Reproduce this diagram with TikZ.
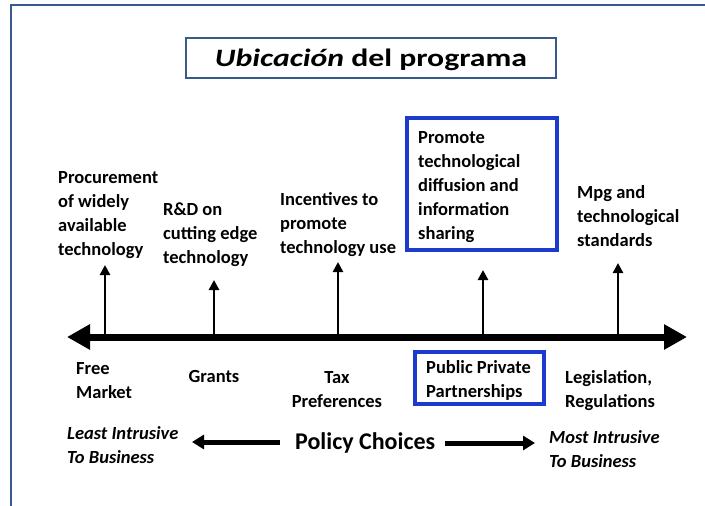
\documentclass[tikz,border=0pt]{standalone}
\usepackage{fontspec}
\setmainfont{Carlito}
\usetikzlibrary{arrows.meta}
\definecolor{frameblue}{RGB}{56,89,137}
\definecolor{boxblue}{RGB}{28,58,205}
\tikzset{
  lbl/.style={font=\bfseries\fontsize{18.5}{24}\selectfont, align=left, anchor=base west, inner sep=0pt},
  lblc/.style={lbl, align=center, anchor=base},
  ilbl/.style={lbl, font=\bfseries\itshape\fontsize{18.5}{24}\selectfont},
  tickarrow/.style={line width=2.8pt, -{Triangle[length=10pt,width=10pt]}},
  bigarrow/.style={line width=5pt, -{Triangle[length=12pt,width=14pt]}},
  axisline/.style={line width=7pt, {Triangle[length=23pt,width=24pt]}-{Triangle[length=23pt,width=24pt]}},
  hilite/.style={draw=boxblue, line width=4pt, inner sep=0pt},
  frameline/.style={draw=frameblue, line width=2.5pt},
}
\begin{document}
\begin{tikzpicture}[x=1pt,y=-1pt]
\useasboundingbox (0,0) rectangle (705,506);
% frame
\draw[frameline] (706,5) -- (11,5) -- (11,507);
% title
\node[draw=frameblue, line width=2pt, minimum width=370pt, minimum height=40pt, inner sep=0pt] (titlebox) at (371,58) {};
\node[font=\bfseries\fontsize{25}{30}\selectfont, anchor=base, inner sep=0pt] (title) at (371,66) {\scalebox{1.27}[1]{\textit{Ubicación} del programa}};
% axis
\coordinate (axL) at (67,337);
\coordinate (axR) at (687,337);
\draw[axisline] (axL) -- (axR);
% upper labels (anchor = baseline of last line)
\node[lbl] (proc) at (58,255) {Procurement\\of widely\\available\\technology};
\node[lbl] (rd) at (163,263) {R\&D on\\cutting edge\\technology};
\node[lbl] (inc) at (280,253) {Incentives to\\promote\\technology use};
\node[hilite, minimum width=150pt, minimum height=132pt] (promBox) at (482,184) {};
\node[lbl] (prom) at (418,239) {Promote\\technological\\diffusion and\\information\\sharing};
\node[lbl] (mpg) at (577,246) {Mpg and\\technological\\standards};
% ticks
\coordinate (b1) at (105,337); \coordinate (t1) at (105,265);
\coordinate (b2) at (214,337); \coordinate (t2) at (214,280);
\coordinate (b3) at (338,337); \coordinate (t3) at (338,262);
\coordinate (b4) at (483,337); \coordinate (t4) at (483,270);
\coordinate (b5) at (618,337); \coordinate (t5) at (618,263);
\draw[tickarrow] (b1) -- (t1);
\draw[tickarrow] (b2) -- (t2);
\draw[tickarrow] (b3) -- (t3);
\draw[tickarrow] (b4) -- (t4);
\draw[tickarrow] (b5) -- (t5);
% lower labels
\node[lbl] (free) at (76,398) {Free\\Market};
\node[lblc] (grants) at (214,382) {Grants};
\node[lblc] (tax) at (337,407) {Tax\\Preferences};
\node[hilite, minimum width=129pt, minimum height=52pt] (pppBox) at (479.5,378) {};
\node[lbl] (ppp) at (426,397) {Public Private\\Partnerships};
\node[lbl] (leg) at (565,407) {Legislation,\\Regulations};
% bottom row
\node[ilbl] (least) at (67,463) {Least Intrusive\\To Business};
\node[font=\bfseries\fontsize{24}{30}\selectfont, anchor=base west, inner sep=0pt] (policy) at (295,449) {Policy Choices};
\node[ilbl] (most) at (549,467) {Most Intrusive\\To Business};
\coordinate (la) at (280,442); \coordinate (lt) at (192,442);
\coordinate (ra) at (445,443); \coordinate (rt) at (535,443);
\draw[bigarrow] (la) -- (lt);
\draw[bigarrow] (ra) -- (rt);
\end{tikzpicture}
\end{document}
